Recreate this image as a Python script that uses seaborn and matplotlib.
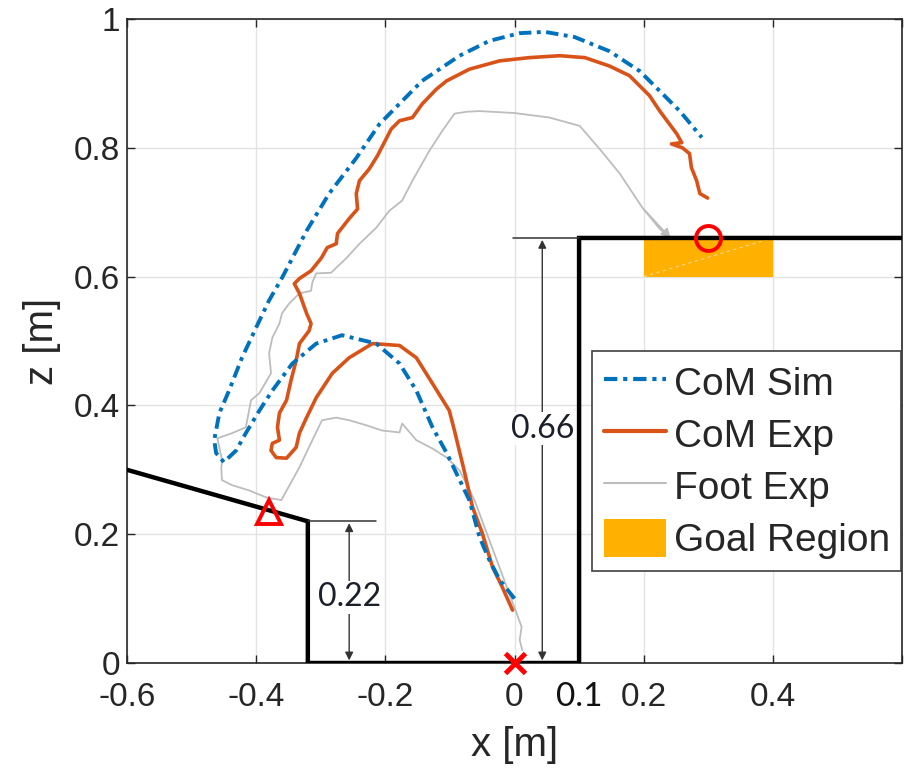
import numpy as np
import pandas as pd
import matplotlib
matplotlib.use("Agg")
import matplotlib.pyplot as plt
import seaborn as sns
from matplotlib.patches import Rectangle, Patch
from matplotlib.lines import Line2D

# CoM simulation trajectory (x, z) [m]
sim_x = [0.0, -0.023, -0.039, -0.054, -0.07, -0.105, -0.127, -0.152, -0.178, -0.214, -0.267, -0.307,
         -0.344, -0.375, -0.395, -0.416, -0.431, -0.45, -0.462, -0.465, -0.457, -0.442, -0.422, -0.4,
         -0.38, -0.36, -0.322, -0.287, -0.245, -0.209, -0.143, -0.085, -0.039, 0.008, 0.047, 0.093,
         0.147, 0.194, 0.225, 0.256, 0.29]
sim_z = [0.1, 0.129, 0.16, 0.195, 0.253, 0.326, 0.366, 0.423, 0.465, 0.496, 0.509, 0.496,
         0.465, 0.423, 0.392, 0.357, 0.33, 0.312, 0.326, 0.346, 0.388, 0.423, 0.474, 0.521,
         0.563, 0.598, 0.671, 0.729, 0.784, 0.837, 0.904, 0.943, 0.966, 0.978, 0.98, 0.972,
         0.95, 0.919, 0.888, 0.857, 0.816]

# CoM experiment trajectory
exp_x = [-0.003, -0.019, -0.034, -0.05, -0.065, -0.078, -0.093, -0.101, -0.127, -0.152, -0.178, -0.22,
         -0.256, -0.282, -0.307, -0.322, -0.333, -0.338, -0.353, -0.369, -0.377, -0.375, -0.364, -0.367,
         -0.364, -0.353, -0.346, -0.338, -0.333, -0.318, -0.315, -0.322, -0.333, -0.341, -0.333, -0.315,
         -0.299, -0.29, -0.276, -0.274, -0.256, -0.243, -0.245, -0.24, -0.225, -0.212, -0.191, -0.178,
         -0.158, -0.143, -0.121, -0.105, -0.07, -0.023, 0.023, 0.07, 0.109, 0.147, 0.178, 0.209,
         0.225, 0.251, 0.259, 0.243, 0.26, 0.271, 0.274, 0.282, 0.287, 0.299]
exp_z = [0.082, 0.118, 0.149, 0.202, 0.242, 0.299, 0.361, 0.392, 0.434, 0.474, 0.493, 0.496,
         0.474, 0.45, 0.412, 0.381, 0.357, 0.335, 0.318, 0.319, 0.33, 0.341, 0.346, 0.366,
         0.388, 0.408, 0.439, 0.47, 0.496, 0.516, 0.527, 0.543, 0.574, 0.589, 0.597, 0.609,
         0.629, 0.645, 0.651, 0.667, 0.69, 0.705, 0.729, 0.749, 0.767, 0.788, 0.829, 0.842,
         0.847, 0.868, 0.891, 0.904, 0.922, 0.935, 0.94, 0.943, 0.94, 0.927, 0.912, 0.881,
         0.857, 0.822, 0.808, 0.806, 0.8, 0.791, 0.769, 0.749, 0.729, 0.722]

# foot trajectory (experiment)
foot_x = [0.012, 0.008, 0.011, 0.003, -0.016, -0.039, -0.062, -0.085, -0.105, -0.127, -0.152, -0.174,
          -0.178, -0.205, -0.229, -0.256, -0.276, -0.298, -0.313, -0.333, -0.361, -0.384, -0.411, -0.437,
          -0.453, -0.454, -0.453, -0.457, -0.46, -0.437, -0.416, -0.411, -0.408, -0.395, -0.377, -0.38,
          -0.375, -0.364, -0.36, -0.349, -0.333, -0.315, -0.313, -0.307, -0.284, -0.26, -0.24, -0.214,
          -0.194, -0.174, -0.158, -0.132, -0.112, -0.093, -0.074, -0.054, 0.0, 0.054, 0.101, 0.132,
          0.163, 0.198, 0.225, 0.237]
foot_z = [0.02, 0.036, 0.056, 0.078, 0.129, 0.191, 0.253, 0.299, 0.319, 0.333, 0.346, 0.372,
          0.358, 0.361, 0.369, 0.377, 0.381, 0.377, 0.346, 0.304, 0.253, 0.257, 0.268, 0.276,
          0.284, 0.302, 0.315, 0.335, 0.349, 0.357, 0.366, 0.392, 0.408, 0.419, 0.45, 0.481,
          0.505, 0.527, 0.543, 0.558, 0.574, 0.578, 0.591, 0.605, 0.606, 0.629, 0.651, 0.676,
          0.702, 0.718, 0.749, 0.795, 0.826, 0.853, 0.856, 0.857, 0.854, 0.847, 0.834, 0.798,
          0.76, 0.707, 0.674, 0.664]

# terrain: slope, 0.22 step, floor, 0.66 platform
terrain_x = [-0.6, -0.32, -0.32, 0.1, 0.1, 0.6]
terrain_z = [0.30, 0.22, 0.0, 0.0, 0.66, 0.66]
step_low = 0.22
step_high = 0.66
goal_x = (0.2, 0.4)
goal_z = (0.6, 0.66)

x_ticks = [-0.6, -0.4, -0.2, 0, 0.1, 0.2, 0.4, 0.6]
x_labels = ["-0.6", "-0.4", "-0.2", "0", "0.1", "0.2", "0.4", ""]
z_ticks = [0, 0.2, 0.4, 0.6, 0.8, 1.0]
z_labels = ["0", "0.2", "0.4", "0.6", "0.8", "1"]

blue = "#0072BD"
orange = "#D95319"
grey = "#BDBDBD"
goal_col = "#FFB000"
axis_col = "#262626"

sns.set_theme(style="ticks")
plt.rcParams["font.family"] = ["Liberation Sans", "DejaVu Sans"]

fig = plt.figure(figsize=(9.07, 7.73), dpi=100)
ax = fig.add_axes([127 / 907, 1 - 663 / 773, 775 / 907, 644 / 773])

sim = pd.DataFrame({"x": sim_x, "z": sim_z})
exp = pd.DataFrame({"x": exp_x, "z": exp_z})
foot = pd.DataFrame({"x": foot_x, "z": foot_z})

ax.add_patch(Rectangle((goal_x[0], goal_z[0]), goal_x[1] - goal_x[0], goal_z[1] - goal_z[0],
                       facecolor=goal_col, edgecolor="none", zorder=2))
ax.plot([goal_x[0], goal_x[1]], [goal_z[0], goal_z[1]], ls=(0, (3, 3)), color="#FFD98A", lw=0.8, zorder=2)

sns.lineplot(data=foot, x="x", y="z", ax=ax, sort=False, estimator=None, color=grey, lw=1.3, zorder=3)
ax.annotate("", xy=(foot_x[-1] + 0.008, foot_z[-1] - 0.008), xytext=(foot_x[-3], foot_z[-3]),
            arrowprops=dict(arrowstyle="-|>", color=grey, lw=1.3, mutation_scale=14), zorder=3)
sns.lineplot(data=exp, x="x", y="z", ax=ax, sort=False, estimator=None, color=orange, lw=2.6, zorder=4)
sns.lineplot(data=sim, x="x", y="z", ax=ax, sort=False, estimator=None, color=blue, lw=2.8,
             ls=(0, (3.2, 1.4, 1.0, 1.4)), zorder=5)

ax.plot(terrain_x, terrain_z, color="black", lw=3.2, zorder=6, solid_joinstyle="miter")

# dimension lines
dim_col = "#333333"
ax.plot([-0.32, -0.215], [step_low, step_low], color=dim_col, lw=1.1, zorder=6)
ax.plot([-0.003, 0.1], [step_high, step_high], color=dim_col, lw=1.1, zorder=6)
ax.annotate("", xy=(-0.256, 0.004), xytext=(-0.256, step_low - 0.003),
            arrowprops=dict(arrowstyle="<|-|>", color=dim_col, lw=1.0, mutation_scale=12, shrinkA=0, shrinkB=0))
ax.annotate("", xy=(0.043, 0.004), xytext=(0.043, step_high - 0.003),
            arrowprops=dict(arrowstyle="<|-|>", color=dim_col, lw=1.0, mutation_scale=12, shrinkA=0, shrinkB=0))
ax.text(-0.256, 0.102, "0.22", ha="center", va="center", fontsize=23, family=["Lato", "DejaVu Sans"],
        color="#1b1f2a", zorder=7, bbox=dict(facecolor="white", edgecolor="none", pad=1))
ax.text(0.043, 0.364, "0.66", ha="center", va="center", fontsize=23, family=["Lato", "DejaVu Sans"],
        color="#1b1f2a", zorder=7, bbox=dict(facecolor="white", edgecolor="none", pad=1))

# event markers
ax.plot([-0.38], [0.235], marker="^", ms=17, mfc="none", mec="red", mew=2.8, ls="none", zorder=8, clip_on=False)
ax.plot([0.0], [0.0], marker="x", ms=15, mec="red", mew=3.5, ls="none", zorder=8, clip_on=False)
ax.plot([0.3], [0.66], marker="o", ms=18, mfc="none", mec="red", mew=2.8, ls="none", zorder=8, clip_on=False)

ax.set_xlim(-0.6, 0.6)
ax.set_ylim(0, 1)
ax.set_xticks(x_ticks)
ax.set_xticklabels(x_labels)
ax.set_yticks(z_ticks)
ax.set_yticklabels(z_labels)
ax.grid(True, color="#E3E3E3", lw=1.0, zorder=0)
ax.set_axisbelow(True)
ax.tick_params(direction="in", top=True, right=True, length=6, width=1, colors=axis_col, labelsize=24)
ax.tick_params(axis="x", pad=14)
ax.tick_params(axis="y", pad=5)
for s in ax.spines.values():
    s.set_color(axis_col)
    s.set_linewidth(1.2)

# the 0.1 wall tick is written in a different font, black, with no gridline
i01 = x_ticks.index(0.1)
t01 = ax.xaxis.get_major_ticks()[i01]
t01.gridline.set_visible(False)
t01.tick2line.set_visible(False)
t01.label1.set_fontfamily(["Lato", "DejaVu Sans"])
t01.label1.set_color("#111111")
t01.label1.set_fontsize(24)

ax.set_xlabel("x [m]", fontsize=29, color=axis_col, labelpad=9)
ax.set_ylabel("z [m]", fontsize=29, color=axis_col, labelpad=9)

handles = [
    Line2D([], [], color=blue, lw=3, ls=(0, (3.2, 1.4, 1.0, 1.4))),
    Line2D([], [], color=orange, lw=3),
    Line2D([], [], color=grey, lw=1.5),
    Patch(facecolor=goal_col, edgecolor="none"),
]
leg = ax.legend(handles, ["CoM Sim", "CoM Exp", "Foot Exp", "Goal Region"], loc="upper left",
                bbox_to_anchor=(0.6, 0.485), fontsize=28, frameon=True, fancybox=False,
                edgecolor="#404040", framealpha=1, handlelength=1.6, handleheight=1.15,
                handletextpad=0.2, labelspacing=0.3, borderpad=0.3, borderaxespad=0)
leg.get_frame().set_linewidth(1.2)
leg.set_zorder(10)

fig.savefig("out.png", dpi=100)
